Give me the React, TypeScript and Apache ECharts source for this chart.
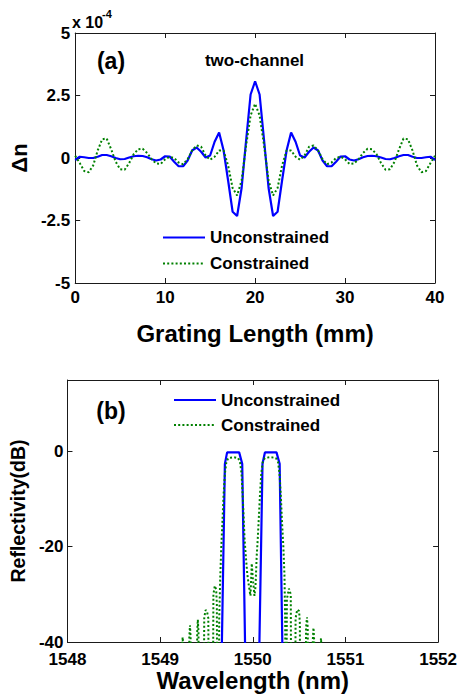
import React, { useEffect, useRef } from 'react';
import * as echarts from 'echarts';

// ---------- Panel (a): index modulation vs grating length ----------
const gratingLengthMm = [
  0, 0.5, 1, 1.5, 2, 2.5, 3, 3.5, 4, 4.5, 5, 5.5, 6, 6.5, 7, 7.5, 8, 8.5, 9, 9.5,
  10, 10.5, 11, 11.5, 12, 12.5, 13, 13.5, 14, 14.5, 15, 15.5, 16, 16.5, 17, 17.5, 18, 18.5, 19, 19.5,
  20, 20.5, 21, 21.5, 22, 22.5, 23, 23.5, 24, 24.5, 25, 25.5, 26, 26.5, 27, 27.5, 28, 28.5, 29, 29.5,
  30, 30.5, 31, 31.5, 32, 32.5, 33, 33.5, 34, 34.5, 35, 35.5, 36, 36.5, 37, 37.5, 38, 38.5, 39, 39.5, 40,
];

// units of 1e-4
const unconstrainedDn = [
  -0.08, 0.05, 0.03, 0.0, 0.0, 0.05, 0.12, 0.12, 0.07, 0.0, -0.05, -0.04, 0.02, 0.07, 0.09, 0.08, 0.03, -0.05, -0.1, -0.06,
  0.07, 0.06, -0.15, -0.33, -0.33, -0.1, 0.3, 0.42, 0.25, 0.02, 0.1, 0.65, 1.02, 0.3, -0.9, -2.15, -2.32, -1.2, 0.7, 2.54,
  3.07, 2.54, 0.7, -1.2, -2.32, -2.15, -0.9, 0.3, 1.02, 0.65, 0.1, 0.02, 0.25, 0.42, 0.3, -0.1, -0.33, -0.33, -0.15, 0.06,
  0.07, -0.06, -0.1, -0.05, 0.03, 0.08, 0.09, 0.07, 0.02, -0.04, -0.05, 0.0, 0.07, 0.12, 0.12, 0.05, 0.0, 0.0, 0.03, 0.05, -0.08,
];

const constrainedDn = [
  0.09, -0.2, -0.52, -0.57, -0.3, 0.3, 0.75, 0.78, 0.35, -0.15, -0.45, -0.47, -0.2, 0.15, 0.35, 0.37, 0.2, -0.05, -0.22, -0.24,
  -0.05, 0.05, 0.0, -0.18, -0.25, -0.05, 0.3, 0.5, 0.45, 0.1, -0.07, 0.05, 0.3, 0.3, -0.3, -1.2, -1.5, -0.9, 0.5, 1.7,
  2.17, 1.7, 0.5, -0.9, -1.5, -1.2, -0.3, 0.3, 0.3, 0.05, -0.07, 0.1, 0.45, 0.5, 0.3, -0.05, -0.25, -0.18, 0.0, 0.05,
  -0.05, -0.24, -0.22, -0.05, 0.2, 0.37, 0.35, 0.15, -0.2, -0.47, -0.45, -0.15, 0.35, 0.78, 0.75, 0.3, -0.3, -0.57, -0.52, -0.2, 0.09,
];

const dnTicks = [-5, -2.5, 0, 2.5, 5];
const lengthTicks = [0, 10, 20, 30, 40];

// ---------- Panel (b): reflectivity spectrum ----------
// [wavelength nm, reflectivity dB]; values below -40 dB fall outside the axis
const unconstrainedSpectrum: [number, number][] = [
  [1548.0, -80], [1549.665, -42], [1549.699, -2.6], [1549.723, -0.2], [1549.79, -0.2], [1549.853, -0.2],
  [1549.886, -2.6], [1549.918, -42], [1550.0, -80], [1550.07, -42], [1550.105, -2.6], [1550.131, -0.2],
  [1550.19, -0.2], [1550.256, -0.2], [1550.29, -2.6], [1550.32, -42], [1552.0, -80],
];

const constrainedSpectrum: [number, number][] = [
  [1548.0, -80],
  [1549.23, -75], [1549.238, -41], [1549.243, -39], [1549.248, -41], [1549.256, -75],
  [1549.305, -75], [1549.315, -39], [1549.322, -36.5], [1549.329, -39], [1549.339, -75],
  [1549.39, -75], [1549.4, -38], [1549.407, -35.3], [1549.414, -38], [1549.424, -75],
  [1549.465, -75], [1549.476, -35], [1549.49, -33.3], [1549.505, -33.5], [1549.52, -35], [1549.53, -75],
  [1549.565, -75], [1549.575, -30], [1549.59, -28.2], [1549.605, -29], [1549.612, -32], [1549.62, -75],
  [1549.628, -75], [1549.638, -35], [1549.648, -27], [1549.66, -20], [1549.672, -15], [1549.685, -9],
  [1549.7, -4.5], [1549.715, -2.2], [1549.735, -1.4], [1549.76, -1.3], [1549.79, -1.2], [1549.82, -1.3],
  [1549.842, -1.4], [1549.862, -2.2], [1549.878, -4.5], [1549.89, -9], [1549.902, -14], [1549.912, -18.6],
  [1549.925, -22], [1549.94, -25.6], [1549.954, -27.7], [1549.965, -29.1], [1549.975, -30.3], [1549.989, -23.5],
  [1549.999, -26.3], [1550.018, -30.3], [1550.029, -28.5], [1550.035, -25.6], [1550.042, -22], [1550.053, -18.6],
  [1550.065, -14], [1550.078, -9], [1550.092, -4.5], [1550.108, -2.2], [1550.13, -1.4], [1550.155, -1.3],
  [1550.19, -1.2], [1550.225, -1.3], [1550.25, -1.4], [1550.272, -2.2], [1550.288, -4.5], [1550.302, -9],
  [1550.316, -15], [1550.33, -20], [1550.342, -26], [1550.35, -36], [1550.358, -75],
  [1550.36, -75], [1550.368, -31], [1550.39, -28.8], [1550.41, -30], [1550.418, -75],
  [1550.452, -75], [1550.462, -35], [1550.48, -33.2], [1550.5, -33.5], [1550.508, -36], [1550.516, -75],
  [1550.565, -75], [1550.575, -37], [1550.585, -34.8], [1550.593, -37], [1550.603, -75],
  [1550.64, -75], [1550.648, -39.5], [1550.655, -37], [1550.662, -39.5], [1550.672, -75],
  [1550.722, -75], [1550.731, -41], [1550.736, -39.2], [1550.741, -41], [1550.75, -75],
  [1552.0, -80],
];

const wavelengthTicks = [1548, 1549, 1550, 1551, 1552];
const reflectivityTicks = [-40, -20, 0];

const seriesNames = ['Unconstrained', 'Constrained'];

const FONT = '"Liberation Sans", Arial, Helvetica, sans-serif';
const BLUE = '#0000ff';
const GREEN = '#008000';
const AXIS_COLOR = '#1a1a1a';

function boxAxis(opts: any) {
  const { gridIndex, pos, min, max, interval, labels, formatter, margin, lineHeight } = opts;
  return {
    type: 'value',
    gridIndex,
    position: pos,
    min,
    max,
    interval,
    axisLine: { show: true, onZero: false, lineStyle: { color: AXIS_COLOR, width: 1 } },
    axisTick: { show: true, inside: true, length: 5, lineStyle: { color: AXIS_COLOR, width: 1 } },
    splitLine: { show: false },
    axisLabel: {
      show: labels,
      color: '#000',
      fontFamily: FONT,
      fontWeight: 'bold',
      fontSize: 17,
      lineHeight: lineHeight ?? 17,
      margin: margin ?? 5,
      formatter,
    },
  };
}

export default function App() {
  const ref = useRef<HTMLDivElement>(null);

  useEffect(() => {
    document.body.style.margin = '0';
    if (!ref.current) return;
    const chart = echarts.init(ref.current, undefined, { renderer: 'svg' });

    const lenFmt = (v: number) => (lengthTicks.includes(v) ? String(v) : '');
    const dnFmt = (v: number) => (dnTicks.includes(v) ? String(v) : '');
    const wlFmt = (v: number) => (wavelengthTicks.includes(v) ? String(v) : '');
    const rFmt = (v: number) => (reflectivityTicks.includes(v) ? String(v) : '');

    const nameStyle = { color: '#000', fontFamily: FONT, fontWeight: 'bold' as const };
    const hiddenSymbol = { color: 'rgba(0,0,0,0)', borderWidth: 0, opacity: 0 };

    const option: any = {
      animation: false,
      backgroundColor: '#ffffff',
      grid: [
        { left: 72, top: 33, width: 363, height: 250, show: false },
        { left: 65, top: 380, width: 377, height: 262, show: false },
      ],
      xAxis: [
        {
          ...boxAxis({ gridIndex: 0, pos: 'bottom', min: 0, max: 40, interval: 10, labels: true, formatter: lenFmt, margin: 6 }),
          name: 'Grating Length (mm)',
          nameLocation: 'middle',
          nameGap: 38,
          nameTextStyle: { ...nameStyle, fontSize: 24 },
        },
        boxAxis({ gridIndex: 0, pos: 'top', min: 0, max: 40, interval: 10, labels: false }),
        {
          ...boxAxis({ gridIndex: 1, pos: 'bottom', min: 1548, max: 1552, interval: 1, labels: true, formatter: wlFmt, margin: 11, lineHeight: 13 }),
          name: 'Wavelength (nm)',
          nameLocation: 'middle',
          nameGap: 25,
          nameTextStyle: { ...nameStyle, fontSize: 24 },
        },
        boxAxis({ gridIndex: 1, pos: 'top', min: 1548, max: 1552, interval: 1, labels: false }),
      ],
      yAxis: [
        {
          ...boxAxis({ gridIndex: 0, pos: 'left', min: -5, max: 5, interval: 2.5, labels: true, formatter: dnFmt, margin: 5, lineHeight: 12 }),
          name: 'Δn',
          nameLocation: 'middle',
          nameGap: 43,
          nameRotate: 90,
          nameTextStyle: { ...nameStyle, fontSize: 22 },
        },
        boxAxis({ gridIndex: 0, pos: 'right', min: -5, max: 5, interval: 2.5, labels: false }),
        {
          ...boxAxis({ gridIndex: 1, pos: 'left', min: -40, max: 15, interval: 20, labels: true, formatter: rFmt, margin: 4, lineHeight: 11 }),
          name: 'Reflectivity(dB)',
          nameLocation: 'middle',
          nameGap: 31,
          nameRotate: 90,
          nameTextStyle: { ...nameStyle, fontSize: 19.5 },
        },
        boxAxis({ gridIndex: 1, pos: 'right', min: -40, max: 15, interval: 20, labels: false }),
      ],
      legend: [
        {
          data: seriesNames,
          orient: 'vertical',
          left: 162,
          top: 229,
          padding: 0,
          itemWidth: 42,
          itemHeight: 14,
          itemGap: 9,
          selectedMode: false,
          itemStyle: hiddenSymbol,
          textStyle: { ...nameStyle, fontSize: 17, lineHeight: 17 },
        },
        {
          data: seriesNames,
          orient: 'vertical',
          left: 173,
          top: 391.5,
          padding: 0,
          itemWidth: 42,
          itemHeight: 14,
          itemGap: 8,
          selectedMode: false,
          itemStyle: hiddenSymbol,
          textStyle: { ...nameStyle, fontSize: 17, lineHeight: 17 },
        },
      ],
      graphic: [
        { type: 'text', left: 72, top: 14, style: { text: 'x 10', font: `bold 16px ${FONT}`, fill: '#000' } },
        { type: 'text', left: 102, top: 8, style: { text: '-4', font: `bold 11px ${FONT}`, fill: '#000' } },
        { type: 'text', x: 111, y: 61, style: { text: '(a)', font: `bold 23px ${FONT}`, fill: '#000', align: 'center', verticalAlign: 'middle' } },
        { type: 'text', x: 254.5, y: 60, style: { text: 'two-channel', font: `bold 17px ${FONT}`, fill: '#000', align: 'center', verticalAlign: 'middle' } },
        { type: 'text', x: 111, y: 411, style: { text: '(b)', font: `bold 23px ${FONT}`, fill: '#000', align: 'center', verticalAlign: 'middle' } },
      ],
      series: [
        {
          name: 'Unconstrained',
          type: 'line',
          xAxisIndex: 0,
          yAxisIndex: 0,
          data: gratingLengthMm.map((x, i) => [x, unconstrainedDn[i]]),
          symbol: 'none',
          lineStyle: { color: BLUE, width: 2.2 },
          itemStyle: { color: BLUE },
          z: 3,
        },
        {
          name: 'Constrained',
          type: 'line',
          xAxisIndex: 0,
          yAxisIndex: 0,
          data: gratingLengthMm.map((x, i) => [x, constrainedDn[i]]),
          symbol: 'none',
          lineStyle: { color: GREEN, width: 2, type: [2, 2.2] },
          itemStyle: { color: GREEN },
          z: 4,
        },
        {
          name: 'Unconstrained',
          type: 'line',
          xAxisIndex: 2,
          yAxisIndex: 2,
          data: unconstrainedSpectrum,
          symbol: 'none',
          clip: true,
          lineStyle: { color: BLUE, width: 2.2 },
          itemStyle: { color: BLUE },
          z: 3,
        },
        {
          name: 'Constrained',
          type: 'line',
          xAxisIndex: 2,
          yAxisIndex: 2,
          data: constrainedSpectrum,
          symbol: 'none',
          clip: true,
          lineStyle: { color: GREEN, width: 2, type: [2, 2.2] },
          itemStyle: { color: GREEN },
          z: 4,
        },
      ],
    };

    chart.setOption(option);
    return () => chart.dispose();
  }, []);

  return <div ref={ref} style={{ position: 'absolute', left: 0, top: 0, width: 460, height: 695 }} />;
}
